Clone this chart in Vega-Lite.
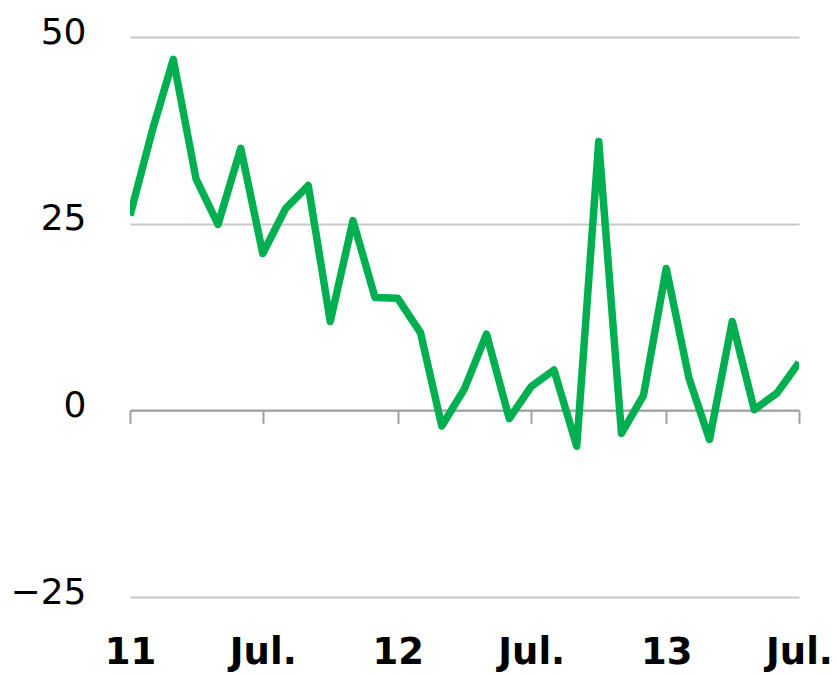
{
  "$schema": "https://vega.github.io/schema/vega-lite/v6.json",
  "width": 669,
  "height": 560,
  "autosize": {"type": "none"},
  "padding": {"left": 130, "top": 37, "right": 37, "bottom": 78},
  "background": "white",
  "config": {"view": {"stroke": null}},
  "data": {
    "values": [
      {"date": "2011-01-01", "value": 26.1},
      {"date": "2011-02-01", "value": 37.7},
      {"date": "2011-03-01", "value": 47.0},
      {"date": "2011-04-01", "value": 31.0},
      {"date": "2011-05-01", "value": 24.9},
      {"date": "2011-06-01", "value": 35.1},
      {"date": "2011-07-01", "value": 21.0},
      {"date": "2011-08-01", "value": 27.0},
      {"date": "2011-09-01", "value": 30.1},
      {"date": "2011-10-01", "value": 11.9},
      {"date": "2011-11-01", "value": 25.4},
      {"date": "2011-12-01", "value": 15.1},
      {"date": "2012-01-01", "value": 15.0},
      {"date": "2012-02-01", "value": 10.4},
      {"date": "2012-03-01", "value": -2.1},
      {"date": "2012-04-01", "value": 2.9},
      {"date": "2012-05-01", "value": 10.2},
      {"date": "2012-06-01", "value": -1.1},
      {"date": "2012-07-01", "value": 3.2},
      {"date": "2012-08-01", "value": 5.4},
      {"date": "2012-09-01", "value": -4.8},
      {"date": "2012-10-01", "value": 36.0},
      {"date": "2012-11-01", "value": -3.1},
      {"date": "2012-12-01", "value": 2.0},
      {"date": "2013-01-01", "value": 19.0},
      {"date": "2013-02-01", "value": 4.3},
      {"date": "2013-03-01", "value": -3.9},
      {"date": "2013-04-01", "value": 11.9},
      {"date": "2013-05-01", "value": 0.1},
      {"date": "2013-06-01", "value": 2.3},
      {"date": "2013-07-01", "value": 6.4}
    ]
  },
  "mark": {
    "type": "line",
    "color": "#00b050",
    "strokeWidth": 7.5,
    "strokeJoin": "round",
    "strokeCap": "butt",
    "clip": true
  },
  "encoding": {
    "x": {
      "field": "date",
      "type": "temporal",
      "title": null,
      "scale": {
        "type": "utc",
        "domain": [
          {"year": 2011, "month": 1, "date": 1, "utc": true},
          {"year": 2013, "month": 7, "date": 1, "utc": true}
        ]
      },
      "axis": {
        "values": [
          {"year": 2011, "month": 1, "date": 1, "utc": true},
          {"year": 2011, "month": 7, "date": 1, "utc": true},
          {"year": 2012, "month": 1, "date": 1, "utc": true},
          {"year": 2012, "month": 7, "date": 1, "utc": true},
          {"year": 2013, "month": 1, "date": 1, "utc": true},
          {"year": 2013, "month": 7, "date": 1, "utc": true}
        ],
        "labelExpr": "utcFormat(datum.value, '%m') == '01' ? utcFormat(datum.value, '%y') : 'Jul.'",
        "offset": -186.67,
        "grid": false,
        "domain": true,
        "domainColor": "#a0a0a0",
        "domainWidth": 2,
        "ticks": true,
        "tickColor": "#a0a0a0",
        "tickWidth": 2,
        "tickSize": 13,
        "labelPadding": 211,
        "labelFont": "DejaVu Sans",
        "labelFontSize": 37,
        "labelFontWeight": "bold",
        "labelColor": "#000000",
        "labelBaseline": "top",
        "labelAlign": "center",
        "labelFlush": false,
        "labelOverlap": false
      }
    },
    "y": {
      "field": "value",
      "type": "quantitative",
      "title": null,
      "scale": {"domain": [-25, 50], "nice": false, "zero": false},
      "axis": {
        "values": [-25, 0, 25, 50],
        "grid": true,
        "gridColor": "#c8c8c8",
        "gridWidth": 2,
        "domain": false,
        "ticks": false,
        "labelPadding": 44,
        "labelOffset": -5,
        "labelFont": "DejaVu Sans",
        "labelFontSize": 36,
        "labelColor": "#000000",
        "labelExpr": "replace(datum.label, '-', '\u2212')"
      }
    }
  }
}
